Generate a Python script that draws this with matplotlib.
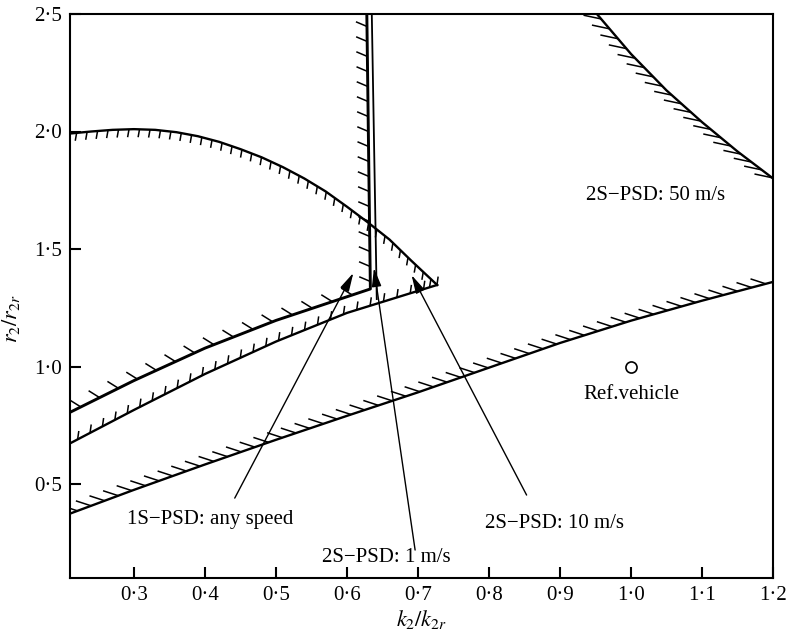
import numpy as np
import matplotlib
matplotlib.use("Agg")
import matplotlib.pyplot as plt
from matplotlib.collections import LineCollection

plt.rcParams['font.family'] = ['Liberation Serif', 'DejaVu Serif']
plt.rcParams['mathtext.fontset'] = 'stix'

# 2S-PSD 50 m/s, lower boundary
low50_x = [0.211, 0.30, 0.40, 0.50, 0.60, 0.70, 0.80, 0.90, 1.00, 1.10, 1.20]
low50_y = [0.375, 0.475, 0.583, 0.688, 0.790, 0.890, 0.995, 1.100, 1.195, 1.280, 1.360]
# 2S-PSD 50 m/s, upper right boundary
up50_x = [0.952, 1.000, 1.050, 1.100, 1.150, 1.201]
up50_y = [2.500, 2.330, 2.175, 2.040, 1.915, 1.798]
# 1S-PSD any speed: upper arc and lower line (meet at the tip)
arc_x = [0.212, 0.24, 0.27, 0.30, 0.33, 0.36, 0.39, 0.42, 0.45, 0.48, 0.51, 0.54,
         0.57, 0.60, 0.63, 0.66, 0.69, 0.727]
arc_y = [1.992, 2.000, 2.007, 2.010, 2.007, 1.997, 1.980, 1.956, 1.925, 1.890, 1.848, 1.800,
         1.745, 1.680, 1.612, 1.540, 1.452, 1.347]
low1s_x = [0.212, 0.30, 0.40, 0.50, 0.60, 0.727]
low1s_y = [0.676, 0.815, 0.968, 1.106, 1.228, 1.347]
# 2S-PSD 1 m/s: sloping line then near-vertical line
line1_x = [0.212, 0.30, 0.40, 0.50, 0.633]
line1_y = [0.808, 0.940, 1.078, 1.196, 1.330]
vert1_x = [0.633, 0.628]
vert1_y = [1.330, 2.500]
# 2S-PSD 10 m/s: near-vertical line
vert10_x = [0.642, 0.635]
vert10_y = [1.287, 2.500]

ref_x, ref_y = [1.0], [1.0]

xticks = [0.3, 0.4, 0.5, 0.6, 0.7, 0.8, 0.9, 1.0, 1.1, 1.2]
xlabels = ['0·3', '0·4', '0·5', '0·6', '0·7', '0·8', '0·9', '1·0', '1·1', '1·2']
yticks = [0.5, 1.0, 1.5, 2.0, 2.5]
ylabels = ['0·5', '1·0', '1·5', '2·0', '2·5']


def hatch(ax, xs, ys, step, length, angle, lw=1.1):
    # short ticks along a curve, drawn in pixel space
    pts = ax.transData.transform(np.column_stack([xs, ys]))
    d = np.hypot(*np.diff(pts, axis=0).T)
    s = np.concatenate([[0], np.cumsum(d)])
    t = np.arange(step * 0.5, s[-1], step)
    px = np.interp(t, s, pts[:, 0])
    py = np.interp(t, s, pts[:, 1])
    a = np.radians(angle)
    inv = ax.transData.inverted()
    p0 = inv.transform(np.column_stack([px, py]))
    p1 = inv.transform(np.column_stack([px + length * np.cos(a), py + length * np.sin(a)]))
    segs = [[a0, b0] for a0, b0 in zip(p0, p1)]
    ax.add_collection(LineCollection(segs, colors='k', linewidths=lw))


fig = plt.figure(figsize=(7.88, 6.37), dpi=100)
ax = fig.add_axes([70 / 788, 59 / 637, 703 / 788, 564 / 637])
ax.set_xlim(0.21, 1.2)
ax.set_ylim(0.1, 2.5)

lw = 1.7
ax.plot(low50_x, low50_y, 'k-', lw=lw)
ax.plot(up50_x, up50_y, 'k-', lw=lw)
ax.plot(arc_x, arc_y, 'k-', lw=lw)
ax.plot(low1s_x, low1s_y, 'k-', lw=lw)
ax.plot(line1_x + vert1_x[1:], line1_y + vert1_y[1:], 'k-', lw=lw + 0.4)
ax.plot(vert10_x, vert10_y, 'k-', lw=1.3)

hatch(ax, low50_x, low50_y, 14.5, 16, 162)
hatch(ax, up50_x, up50_y, 13, 18, 168)
hatch(ax, arc_x, arc_y, 10.5, 8, -100)
hatch(ax, low1s_x, low1s_y, 14, 8.5, 82)
hatch(ax, line1_x, line1_y, 21, 13, 148)
hatch(ax, vert1_x, vert1_y, 15, 12, 157)

ax.plot(ref_x, ref_y, 'o', ms=8, mfc='white', mec='k', mew=1.2)

fs = 15
ax.text(1.034, 1.726, '2S\u2212PSD: 50 m/s', fontsize=fs, ha='center', va='center')
ax.text(1.001, 0.879, 'Ref.vehicle', fontsize=fs, ha='center', va='center')

aprops = dict(arrowstyle='-|>,head_length=0.7,head_width=0.18', color='k', lw=1.0,
              shrinkA=0, shrinkB=0, mutation_scale=16)
ax.annotate('', xy=(0.609, 1.398), xytext=(0.442, 0.440), arrowprops=aprops)
ax.annotate('', xy=(0.638, 1.419), xytext=(0.696, 0.219), arrowprops=aprops)
ax.annotate('', xy=(0.691, 1.389), xytext=(0.853, 0.453), arrowprops=aprops)
ax.text(0.408, 0.347, '1S\u2212PSD: any speed', fontsize=fs, ha='center', va='center')
ax.text(0.656, 0.189, '2S\u2212PSD: 1 m/s', fontsize=fs, ha='center', va='center')
ax.text(0.892, 0.334, '2S\u2212PSD: 10 m/s', fontsize=fs, ha='center', va='center')

ax.set_xticks(xticks)
ax.set_xticklabels(xlabels)
ax.set_yticks(yticks)
ax.set_yticklabels(ylabels)
ax.tick_params(direction='in', length=8, width=1.5, labelsize=fs, pad=6,
               top=False, right=False)
for sp in ax.spines.values():
    sp.set_linewidth(1.5)
ax.set_xlabel(r'$k_2/k_{2r}$', fontsize=fs + 1, labelpad=2)
ax.set_ylabel(r'$r_2/r_{2r}$', fontsize=fs + 1)
ax.yaxis.set_label_coords(-0.068, 0.46)

fig.savefig('out.png', dpi=100)
